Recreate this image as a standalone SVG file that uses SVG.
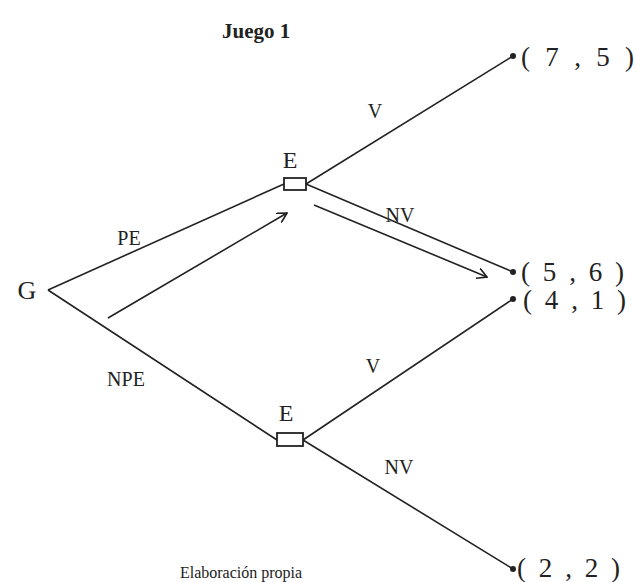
<svg xmlns="http://www.w3.org/2000/svg" width="637" height="582" viewBox="0 0 637 582">
<style>
.t{font-family:"Liberation Serif","Times New Roman",serif;fill:#222}
.lbl{font-size:20px}
.pay{font-size:27px}
.ln{stroke:#222;stroke-width:1.6;fill:none}
.box{stroke:#222;stroke-width:1.8;fill:#fff}
</style>
<defs>
<marker id="ah" viewBox="0 0 10 10" refX="9" refY="5" markerWidth="11" markerHeight="11" markerUnits="userSpaceOnUse" orient="auto">
<path d="M0,0 L9,5 L0,10" fill="none" stroke="#222" stroke-width="1.5"/>
</marker>
</defs>
<rect width="637" height="582" fill="#fff"/>
<text class="t" x="222" y="38" font-size="21" font-weight="bold">Juego 1</text>
<g id="connectors">
<line class="ln" x1="48" y1="290" x2="284" y2="184"/>
<line class="ln" x1="48" y1="290" x2="277" y2="440"/>
<line class="ln" x1="306" y1="184" x2="513" y2="56"/>
<line class="ln" x1="306" y1="184" x2="513" y2="272"/>
<line class="ln" x1="303" y1="440" x2="513" y2="299"/>
<line class="ln" x1="303" y1="440" x2="513" y2="569"/>
<line class="ln" x1="108" y1="318" x2="287" y2="213" marker-end="url(#ah)"/>
<line class="ln" x1="314" y1="205" x2="487" y2="277" marker-end="url(#ah)"/>
<text class="t lbl" x="375" y="118" text-anchor="middle">V</text>
<text class="t lbl" x="400" y="222" text-anchor="middle">NV</text>
<text class="t lbl" x="129" y="245" text-anchor="middle">PE</text>
<text class="t lbl" x="126" y="386" text-anchor="middle">NPE</text>
<text class="t lbl" x="373" y="373" text-anchor="middle">V</text>
<text class="t lbl" x="399" y="474" text-anchor="middle">NV</text>
</g>
<g id="G"><text class="t" x="27" y="299" font-size="26" text-anchor="middle">G</text></g>
<g id="E1"><text class="t" x="290" y="168" font-size="24" text-anchor="middle">E</text><rect class="box" x="284" y="178" width="22" height="12"/></g>
<g id="E2"><text class="t" x="286" y="421" font-size="24" text-anchor="middle">E</text><rect class="box" x="277" y="433" width="26" height="13"/></g>
<g id="p75"><circle cx="513" cy="56" r="3" fill="#222"/><text class="t pay" x="521" y="66" textLength="113" lengthAdjust="spacing">(7,5)</text></g>
<g id="p56"><circle cx="513" cy="272" r="3" fill="#222"/><text class="t pay" x="521" y="281" textLength="103" lengthAdjust="spacing">(5,6)</text></g>
<g id="p41"><circle cx="513" cy="299" r="3" fill="#222"/><text class="t pay" x="523" y="309" textLength="103" lengthAdjust="spacing">(4,1)</text></g>
<g id="p22"><circle cx="513" cy="569" r="3" fill="#222"/><text class="t pay" x="517" y="577" textLength="103" lengthAdjust="spacing">(2,2)</text></g>
<text x="241" y="578" font-family="Liberation Serif, serif" font-size="16" fill="#222" text-anchor="middle">Elaboración propia</text>
</svg>
